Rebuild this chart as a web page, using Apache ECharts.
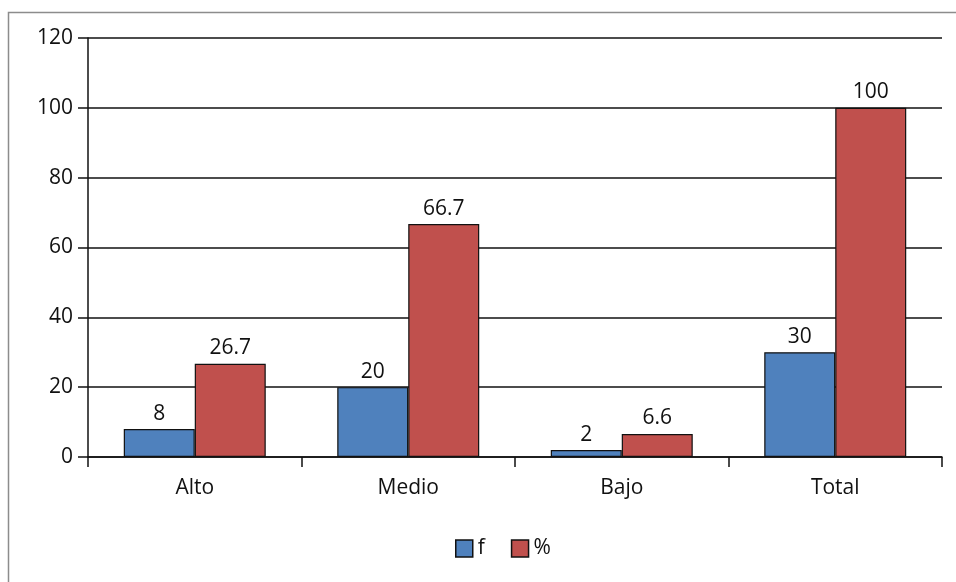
<!DOCTYPE html>
<html>
<head>
<meta charset="utf-8">
<script src="https://cdn.jsdelivr.net/npm/echarts@6/dist/echarts.min.js"></script>
<style>
html,body{margin:0;padding:0;background:#fff;}
#main{width:956px;height:582px;}
</style>
</head>
<body>
<div id="main"></div>
<script>
const categories = ['Alto', 'Medio', 'Bajo', 'Total'];
const seriesF = [8, 20, 2, 30];
const seriesPct = [26.7, 66.7, 6.6, 100];
const yTicks = [0, 20, 40, 60, 80, 100, 120];

const chart = echarts.init(document.getElementById('main'));
const font = '"Open Sans", sans-serif';
const textColor = '#111';
const fs = 21;
chart.setOption({
  animation: false,
  backgroundColor: '#fff',
  graphic: [{
    type: 'rect', silent: true, z: -1,
    shape: { x: 8.5, y: 12.5, width: 960, height: 600 },
    style: { fill: 'none', stroke: '#8c8c8c', lineWidth: 1.5 }
  }],
  grid: { left: 88, right: 14, top: 38, bottom: 125 },
  legend: {
    top: 533, left: 450,
    itemWidth: 17, itemHeight: 17, itemGap: 26,
    icon: 'rect',
    textStyle: { fontFamily: font, fontSize: fs, color: textColor },
    itemStyle: { borderColor: '#111', borderWidth: 1.5 },
    data: ['f', '%']
  },
  xAxis: {
    type: 'category', data: categories,
    axisLine: { lineStyle: { color: '#111', width: 1.5 } },
    axisTick: { show: true, length: 10, lineStyle: { color: '#111', width: 1.5 } },
    axisLabel: { fontFamily: font, fontSize: fs, color: textColor, margin: 21 }
  },
  yAxis: {
    type: 'value', min: 0, max: 120, interval: 20,
    axisLine: { show: true, lineStyle: { color: '#111', width: 1.5 } },
    axisTick: { show: true, length: 10, lineStyle: { color: '#111', width: 1.5 } },
    axisLabel: {
      fontFamily: font, fontSize: fs, color: textColor, margin: 15,
      formatter: v => yTicks.includes(v) ? String(v) : ''
    },
    splitLine: { show: true, lineStyle: { color: '#111', width: 1.5 } }
  },
  series: [{
    name: 'f', type: 'bar', data: seriesF,
    barGap: '0%', barCategoryGap: '33.5%',
    itemStyle: { color: '#4F81BD', borderColor: '#111', borderWidth: 1.2 },
    label: { show: true, position: 'top', distance: 5, fontFamily: font, fontSize: fs, color: textColor }
  }, {
    name: '%', type: 'bar', data: seriesPct,
    itemStyle: { color: '#C0504D', borderColor: '#111', borderWidth: 1.2 },
    label: { show: true, position: 'top', distance: 5, fontFamily: font, fontSize: fs, color: textColor }
  }]
});
</script>
</body>
</html>
